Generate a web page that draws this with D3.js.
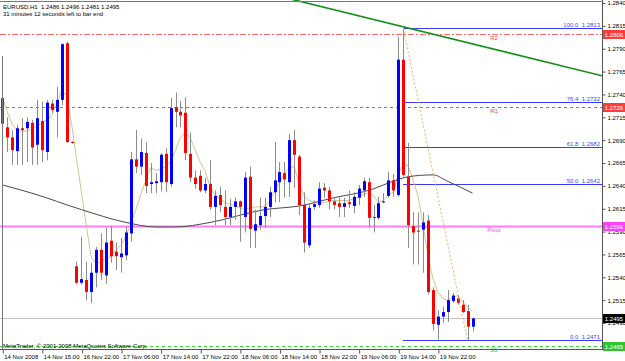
<!DOCTYPE html>
<html>
<head>
<meta charset="utf-8">
<script src="https://cdn.jsdelivr.net/npm/d3@7"></script>
<style>
  body { margin: 0; background: #fff; }
  svg text { font-family: "Liberation Sans", Arial, sans-serif; font-size: 6px; }
</style>
</head>
<body>
<div id="chart"></div>
<script>
// EURUSD H1, 14-20 Nov 2008 (one entry per hourly bar)
var tickBars = [0, 8, 16, 24, 32, 40, 48, 56, 64, 72, 80, 88];
var tickLabels = ["14 Nov 2008", "14 Nov 15:00", "16 Nov 22:00", "17 Nov 06:00", "17 Nov 14:00",
  "17 Nov 22:00", "18 Nov 06:00", "18 Nov 14:00", "18 Nov 22:00", "19 Nov 06:00",
  "19 Nov 14:00", "19 Nov 22:00"];

var opens = [1.2736,1.2704,1.2693,1.2678,1.2703,1.2703,1.2709,1.2685,1.2711,1.2677,
  1.2730,1.2721,1.2734,1.2796,1.2688,1.2552,1.2534,1.2537,1.2524,1.2545,
  1.2570,1.2542,1.2580,1.2568,1.2562,1.2564,1.2588,1.2669,1.2661,1.2676,
  1.2642,1.2643,1.2644,1.2675,1.2642,1.2726,1.2721,1.2720,1.2675,1.2649,
  1.2651,1.2635,1.2642,1.2617,1.2630,1.2617,1.2606,1.2617,1.2623,1.2606,
  1.2650,1.2591,1.2597,1.2607,1.2617,1.2633,1.2644,1.2654,1.2644,1.2690,
  1.2672,1.2619,1.2575,1.2617,1.2619,1.2638,1.2635,1.2623,1.2621,1.2617,
  1.2622,1.2618,1.2627,1.2635,1.2644,1.2606,1.2605,1.2622,1.2629,1.2646,
  1.2630,1.2778,1.2650,1.2596,1.2591,1.2592,1.2602,1.2526,1.2488,1.2497,
  1.2502,1.2514,1.2517,1.2510,1.2503,1.2486];
var highs = [1.2782,1.2715,1.2701,1.2707,1.2714,1.2715,1.2712,1.2734,1.2732,1.2734,
  1.2734,1.2748,1.2796,1.2798,1.2689,1.2557,1.2584,1.2557,1.2556,1.2573,
  1.2588,1.2594,1.2596,1.2578,1.2583,1.2595,1.2677,1.2701,1.2692,1.2688,
  1.2665,1.2654,1.2676,1.2681,1.2736,1.2742,1.2733,1.2737,1.2698,1.2657,
  1.2657,1.2649,1.2668,1.2635,1.2639,1.2635,1.2626,1.2627,1.2624,1.2655,
  1.2661,1.2614,1.2627,1.2627,1.2639,1.2688,1.2666,1.2666,1.2697,1.2701,
  1.2674,1.2633,1.2621,1.2624,1.2644,1.2643,1.2639,1.2628,1.2627,1.2627,
  1.2635,1.2633,1.2641,1.2649,1.2649,1.2619,1.2628,1.2632,1.2655,1.2653,
  1.2803,1.2813,1.2687,1.2611,1.2611,1.2611,1.2608,1.2529,1.2504,1.2508,
  1.2526,1.2523,1.2521,1.2515,1.2510,1.2496];
var lows = [1.2692,1.2677,1.2663,1.2663,1.2663,1.2666,1.2663,1.2663,1.2666,1.2668,
  1.2720,1.2693,1.2728,1.2687,1.2686,1.2532,1.2532,1.2515,1.2512,1.2529,
  1.2537,1.2533,1.2556,1.2548,1.2545,1.2559,1.2579,1.2654,1.2652,1.2632,
  1.2632,1.2632,1.2634,1.2633,1.2639,1.2704,1.2704,1.2668,1.2644,1.2637,
  1.2633,1.2632,1.2614,1.2597,1.2611,1.2597,1.2597,1.2603,1.2579,1.2589,
  1.2572,1.2572,1.2592,1.2594,1.2606,1.2622,1.2622,1.2627,1.2628,1.2638,
  1.2608,1.2567,1.2572,1.2614,1.2616,1.2627,1.2614,1.2614,1.2606,1.2606,
  1.2616,1.2610,1.2619,1.2628,1.2594,1.2589,1.2603,1.2621,1.2627,1.2628,
  1.2628,1.2650,1.2572,1.2554,1.2554,1.2545,1.2521,1.2482,1.2472,1.2490,
  1.2491,1.2512,1.2510,1.2501,1.2471,1.2481];
var closes = [1.2708,1.2693,1.2679,1.2703,1.2701,1.2710,1.2682,1.2714,1.2679,1.2731,
  1.2723,1.2734,1.2795,1.2688,1.2687,1.2534,1.2538,1.2524,1.2545,1.2570,
  1.2545,1.2578,1.2563,1.2563,1.2566,1.2589,1.2669,1.2661,1.2677,1.2640,
  1.2644,1.2645,1.2674,1.2644,1.2725,1.2721,1.2717,1.2676,1.2649,1.2642,
  1.2635,1.2642,1.2617,1.2629,1.2619,1.2606,1.2617,1.2623,1.2617,1.2649,
  1.2593,1.2598,1.2607,1.2617,1.2633,1.2646,1.2655,1.2647,1.2690,1.2674,
  1.2619,1.2578,1.2616,1.2620,1.2637,1.2635,1.2623,1.2619,1.2617,1.2621,
  1.2620,1.2628,1.2637,1.2645,1.2605,1.2605,1.2621,1.2623,1.2646,1.2635,
  1.2778,1.2652,1.2597,1.2589,1.2590,1.2600,1.2524,1.2489,1.2497,1.2502,
  1.2515,1.2520,1.2512,1.2502,1.2486,1.2495];

// short moving average (tan line), one value per bar
var fastMA = [1.2737,1.2721,1.2707,1.2701,1.2700,1.2700,1.2702,1.2705,1.2709,1.2712,
  1.2717,1.2730,1.2744,1.2739,1.2708,1.2670,1.2633,1.2596,1.2561,1.2555,
  1.2557,1.2560,1.2563,1.2570,1.2575,1.2585,1.2600,1.2614,1.2631,1.2646,
  1.2660,1.2657,1.2658,1.2661,1.2667,1.2679,1.2693,1.2698,1.2692,1.2679,
  1.2666,1.2656,1.2639,1.2630,1.2626,1.2622,1.2620,1.2618,1.2616,1.2614,
  1.2616,1.2617,1.2617,1.2617,1.2623,1.2634,1.2644,1.2653,1.2660,1.2661,
  1.2641,1.2629,1.2624,1.2622,1.2621,1.2622,1.2623,1.2624,1.2624,1.2624,
  1.2624,1.2626,1.2628,1.2631,1.2632,1.2629,1.2622,1.2624,1.2630,1.2633,
  1.2652,1.2664,1.2662,1.2646,1.2629,1.2597,1.2564,1.2539,1.2524,1.2517,
  1.2515,1.2518,1.2520,1.2513,1.2508,1.2503];

// long moving average (dark line), [bar, price] read at turning points
var slowMA = [[0,1.2641],[6,1.2632],[16,1.2614],[25,1.2600],[31,1.2595],[35,1.2595],
  [42,1.2600],[53,1.2614],[60,1.2618],[67,1.2627],[74,1.2635],[80,1.2647],
  [82,1.2650],[87,1.2652],[90,1.2645],[95,1.2632]];

var priceTicks = [1.2840,1.2815,1.2790,1.2765,1.2740,1.2715,1.2690,1.2665,1.2640,
  1.2615,1.2590,1.2565,1.2540,1.2515,1.2490];

var pivotNames = ["R2", "R1", "Pivot", "S1"];
var pivotPrices = [1.2806, 1.2726, 1.2596, 1.2465];
var pivotColors = ["#ff6a6a", "#ff4a4a", "#ff7cff", "#33d633"];
var pivotBoxColors = ["#ff3c3c", "#ff3c3c", "#ff40ff", "#2fc42f"];
var pivotDash = ["6,2,2,2", "3,3", null, "3,3"];

var fibLevels = ["100.0", "76.4", "61.8", "50.0", "0.0"];
var fibPrices = [1.2813, 1.2732, 1.2682, 1.2642, 1.2471];
var fibFrom = [81, 1.2813];   // swing high bar
var fibTo = [94, 1.2471];     // swing low bar

var trendLine = [[60, 1.2842], [81, 1.2814]];
var lastPrice = 1.2495;

// layout
var svgWidth = 625;
var svgHeight = 361;
var plotRight = 602;
var plotBottom = 349;

var svg = d3.select("#chart")
  .append("svg")
  .attr("width", svgWidth)
  .attr("height", svgHeight);

svg.append("rect")
  .attr("width", svgWidth)
  .attr("height", svgHeight)
  .attr("fill", "#ffffff");

svg.append("clipPath")
  .attr("id", "plotClip")
  .append("rect")
  .attr("x", 0).attr("y", 0)
  .attr("width", plotRight).attr("height", plotBottom);

var xScale = d3.scaleLinear()
  .domain([0, 95])
  .range([2.25, 472.5]);

var yScale = d3.scaleLinear()
  .domain([1.2840, 1.2490])
  .range([3, 323]);

var plot = svg.append("g").attr("clip-path", "url(#plotClip)");

// 1) horizontal levels behind the bars
// ==============================
plot.selectAll(".pivot")
  .data(pivotPrices)
  .enter()
  .append("line")
  .attr("x1", 0)
  .attr("x2", plotRight)
  .attr("y1", d => Math.round(yScale(d)) + 0.5)
  .attr("y2", d => Math.round(yScale(d)) + 0.5)
  .attr("stroke", (d, i) => pivotColors[i])
  .attr("stroke-width", (d, i) => pivotNames[i] == "Pivot" ? 2 : 1)
  .attr("stroke-dasharray", (d, i) => pivotDash[i]);

plot.append("line")
  .attr("x1", 0)
  .attr("x2", plotRight)
  .attr("y1", Math.round(yScale(lastPrice)) + 0.5)
  .attr("y2", Math.round(yScale(lastPrice)) + 0.5)
  .attr("stroke", "#c4c4c4");

plot.selectAll(".fib")
  .data(fibPrices)
  .enter()
  .append("line")
  .attr("x1", Math.round(xScale(fibFrom[0])))
  .attr("x2", plotRight)
  .attr("y1", d => Math.round(yScale(d)) + 0.5)
  .attr("y2", d => Math.round(yScale(d)) + 0.5)
  .attr("stroke", "#3a3aff");

// 2) moving averages
// ==============================
var fastLine = d3.line()
  .x((d, i) => xScale(i))
  .y(d => yScale(d));

plot.append("path")
  .attr("d", fastLine(fastMA))
  .attr("fill", "none")
  .attr("stroke", "#d8c28e")
  .attr("stroke-width", 1);

var slowLine = d3.line()
  .x(d => xScale(d[0]))
  .y(d => yScale(d[1]))
  .curve(d3.curveMonotoneX);

plot.append("path")
  .attr("d", slowLine(slowMA))
  .attr("fill", "none")
  .attr("stroke", "#4a4a4a")
  .attr("stroke-width", 1);

// 3) candles
// ==============================
var bars = d3.range(opens.length);

plot.selectAll(".wick")
  .data(bars)
  .enter()
  .append("line")
  .attr("x1", i => Math.round(xScale(i)) + 0.5)
  .attr("x2", i => Math.round(xScale(i)) + 0.5)
  .attr("y1", i => yScale(highs[i]))
  .attr("y2", i => yScale(lows[i]))
  .attr("stroke", "#8c8c8c");

plot.selectAll(".body")
  .data(bars)
  .enter()
  .append("rect")
  .attr("x", i => Math.round(xScale(i)) - 1)
  .attr("width", 3)
  .attr("y", i => yScale(Math.max(opens[i], closes[i])))
  .attr("height", i => Math.max(1, Math.abs(yScale(opens[i]) - yScale(closes[i]))))
  .attr("fill", i => closes[i] >= opens[i] ? "#0000ff" : "#ff0000");

// 4) drawn objects: trendline and fibo diagonal
// ==============================
var tx0 = xScale(trendLine[0][0]), ty0 = yScale(trendLine[0][1]);
var tx1 = xScale(trendLine[1][0]), ty1 = yScale(trendLine[1][1]);
var slope = (ty1 - ty0) / (tx1 - tx0);

plot.append("line")
  .attr("x1", tx0 - 10)
  .attr("y1", ty0 - 10 * slope)
  .attr("x2", plotRight)
  .attr("y2", ty0 + (plotRight - tx0) * slope)
  .attr("stroke", "#14901e")
  .attr("stroke-width", 1.6);

plot.append("line")
  .attr("x1", xScale(fibFrom[0]))
  .attr("y1", yScale(fibFrom[1]))
  .attr("x2", xScale(fibTo[0]))
  .attr("y2", yScale(fibTo[1]))
  .attr("stroke", "#f2b25a")
  .attr("stroke-dasharray", "2,2");

// 5) object texts
// ==============================
svg.selectAll(".fibText")
  .data(fibPrices)
  .enter()
  .append("text")
  .attr("x", 600)
  .attr("y", d => Math.round(yScale(d)) - 1.5)
  .attr("text-anchor", "end")
  .attr("fill", "#4646ff")
  .text((d, i) => fibLevels[i] + "\u00a0\u00a0" + d.toFixed(4));

svg.selectAll(".pivotText")
  .data(pivotPrices)
  .enter()
  .append("text")
  .attr("x", 494)
  .attr("y", d => yScale(d) + 6)
  .attr("text-anchor", "middle")
  .attr("fill", (d, i) => pivotBoxColors[i])
  .text((d, i) => pivotNames[i]);

svg.append("text")
  .attr("x", 3)
  .attr("y", 8.5)
  .attr("fill", "#000")
  .text("EURUSD,H1\u00a0\u00a0" + [opens[95], highs[95], lows[95], closes[95]].map(d => d.toFixed(4)).join(" "));

svg.append("text")
  .attr("x", 3)
  .attr("y", 16)
  .attr("fill", "#000")
  .text("31 minutes 12 seconds left to bar end");

svg.append("text")
  .attr("x", 3)
  .attr("y", 347.5)
  .attr("fill", "#000")
  .text("MetaTrader, \u00a9 2001-2008 MetaQuotes Software Corp.");

// 6) axes
// ==============================
var rightAxis = d3.axisRight(yScale)
  .tickValues(priceTicks)
  .tickFormat(d3.format(".4f"))
  .tickSize(3)
  .tickPadding(2);

var yAxisGroup = svg.append("g")
  .attr("transform", `translate(${plotRight + 0.5}, 0)`)
  .call(rightAxis);

var bottomAxis = d3.axisBottom(xScale)
  .tickValues(tickBars)
  .tickFormat((d, i) => tickLabels[i])
  .tickSize(4)
  .tickPadding(1);

var xAxisGroup = svg.append("g")
  .attr("transform", `translate(0, ${plotBottom + 0.5})`)
  .call(bottomAxis);

xAxisGroup.selectAll(".tick line").attr("transform", "translate(0.5,0)");
xAxisGroup.selectAll(".tick text")
  .attr("text-anchor", "start")
  .attr("x", 1.5);

[yAxisGroup, xAxisGroup].forEach(function(g) {
  g.select(".domain").remove();
  g.selectAll("text").attr("font-size", "6px").attr("font-family", null).attr("fill", "#000");
  g.selectAll(".tick line").attr("stroke", "#555");
});

// frame lines
svg.append("line")
  .attr("x1", plotRight + 0.5).attr("x2", plotRight + 0.5)
  .attr("y1", 0).attr("y2", plotBottom + 1)
  .attr("stroke", "#555");
svg.append("line")
  .attr("x1", 0).attr("x2", plotRight + 1)
  .attr("y1", plotBottom + 0.5).attr("y2", plotBottom + 0.5)
  .attr("stroke", "#555");
svg.append("line")
  .attr("x1", 0).attr("x2", plotRight + 1)
  .attr("y1", 1.5).attr("y2", 1.5)
  .attr("stroke", "#777");
svg.append("line")
  .attr("x1", 2.5).attr("x2", 2.5)
  .attr("y1", yScale(highs[0])).attr("y2", plotBottom)
  .attr("stroke", "#777");

// 7) price tags on the scale
// ==============================
var tagPrices = pivotPrices.concat([lastPrice]);
var tagColors = pivotBoxColors.concat(["#000000"]);

var tags = svg.selectAll(".tag")
  .data(tagPrices)
  .enter()
  .append("g")
  .attr("transform", d => `translate(603, ${Math.round(yScale(d)) - 4})`);

tags.append("rect")
  .attr("width", 22)
  .attr("height", 9)
  .attr("fill", (d, i) => tagColors[i]);

tags.append("text")
  .attr("x", 11)
  .attr("y", 6.8)
  .attr("text-anchor", "middle")
  .attr("fill", "#fff")
  .text(d => d.toFixed(4));
</script>
</body>
</html>
